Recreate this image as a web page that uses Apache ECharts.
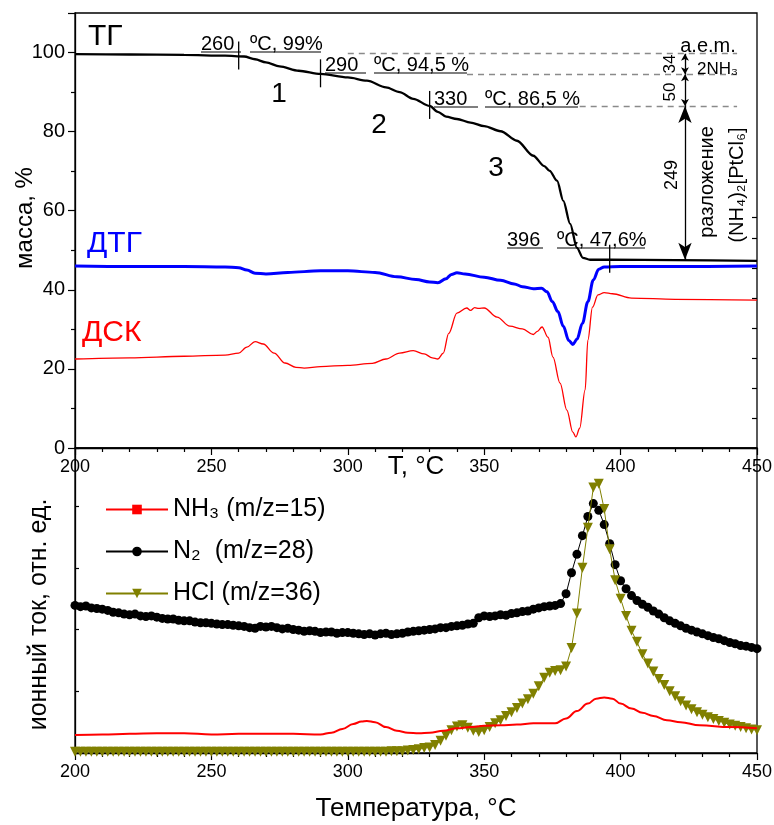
<!DOCTYPE html>
<html><head><meta charset="utf-8">
<script src="https://cdn.jsdelivr.net/npm/echarts@6/dist/echarts.min.js"></script>
<style>html,body{margin:0;padding:0;background:#fff}#c{width:774px;height:825px}</style>
</head><body><div id="c"></div>
<script>
const FONT = '"Liberation Sans", Arial, Helvetica, sans-serif';

// ---- top panel: TG (mass %), DTG, DSC (plotted on mass scale) ----
const tgT = [200,220,240,255,262,266,270,275,282,290,300,307,314,319,324,330,333,336,340,345,350,356,362,368,372,374,376.7,379,381.5,384,386.2,388.8,396,420,450];
const tgV = [99.6,99.5,99.4,99.2,99.0,98.3,97.5,96.5,95.4,94.6,93.7,92.9,91.2,90.0,88.3,86.5,85.0,83.8,83.2,82.3,81.4,80.1,77.7,73.9,71.3,70.1,67.6,62.5,56.7,50.6,48.1,47.6,47.6,47.5,47.3];

const dtgT = [200,220,240,255,260,263,266,270,278,290,300,310,318,325,330,333,336,338,340,343,350,356,361,364,368,371,373,375,377,379,381,382.5,384,386,388,390,392,394,400,420,450];
const dtgV = [46.0,45.9,45.9,45.8,45.6,45.0,44.2,44.0,44.4,44.8,44.8,44.4,43.3,42.6,42.0,41.8,42.8,43.9,44.3,44.0,43.2,42.4,41.5,40.8,40.3,40.4,39.5,37.0,34.5,30.8,27.2,26.2,27.5,31.5,37.0,42.5,45.2,45.8,45.9,45.9,46.0];

const dscT = [200,220,240,255,260,263,266,269,273,277,281,284,290,300,309,314,319,324,328,331,333,335,337,340,343.6,345,346.5,348,350,354.7,359.4,364,368,369.5,371.2,373.4,375.2,377.8,380.3,382.5,383.6,385,387,388,389.7,391.7,394,397,404,420,450];
const dscV = [22.5,22.8,23.2,23.5,24.0,25.5,26.9,26.3,24.0,21.5,20.4,20.2,20.6,20.9,21.4,22.5,24.0,24.6,23.8,22.8,22.5,24.0,29.0,34.1,35.4,34.8,35.5,35.3,35.4,33.1,30.8,30.1,28.7,29.5,30.6,28.0,23.0,16.4,9.6,4.0,2.8,5.0,14.7,27.3,35.6,38.7,39.3,39.0,37.9,37.6,37.4];

// TG step annotations
const stepT = [260, 290, 330, 396];
const stepMass = [99, 94.5, 86.5, 47.6];
// mass-loss levels (dashed guides / arrows)
const levelMass = [99.7, 94.5, 86.5, 47.6];
const levelStartT = [300, 343.7, 385];
const levelEndT = 442.7;
const arrowT = 423.6;

// ---- bottom panel: mass spectrometry ion currents ----
const nh3T = [200,210,220,230,240,250,260,270,280,290,294,298,302,305,307,310,314,318,322,326,330,335,340,345,350,356,362,368,372,376,380,384,388,391,394,397,400,404,408,412,417,422,429,440,450];
const nh3V = [0.29,0.30,0.31,0.32,0.32,0.30,0.31,0.31,0.31,0.30,0.33,0.39,0.47,0.51,0.52,0.50,0.42,0.36,0.33,0.32,0.33,0.36,0.40,0.42,0.44,0.45,0.46,0.48,0.48,0.48,0.56,0.68,0.80,0.88,0.90,0.88,0.80,0.72,0.65,0.60,0.53,0.50,0.45,0.42,0.40];

const msT = [
200,202,204,206,208,210,212,214,216,218,
220,222,224,226,228,230,232,234,236,238,
240,242,244,246,248,250,252,254,256,258,
260,262,264,266,268,270,272,274,276,278,
280,282,284,286,288,290,292,294,296,298,
300,302,304,306,308,310,312,314,316,318,
320,322,324,326,328,330,332,334,336,338,
340,342,344,346,348,350,352,354,356,358,
360,362,364,366,368,370,372,374,376,378,
380,382,384,386,388,390,392,394,396,398,
400,402,404,406,408,410,412,414,416,418,
420,422,424,426,428,430,432,434,436,438,
440,442,444,446,448,450];
const n2V = [
2.39,2.37,2.38,2.35,2.34,2.33,2.31,2.28,2.27,2.25,
2.24,2.25,2.22,2.21,2.22,2.20,2.18,2.17,2.17,2.15,
2.14,2.14,2.12,2.11,2.11,2.10,2.09,2.08,2.08,2.07,
2.06,2.05,2.03,2.02,2.05,2.04,2.05,2.03,2.01,2.02,
2.00,1.99,1.97,1.98,1.97,1.95,1.96,1.96,1.94,1.95,
1.95,1.94,1.93,1.92,1.93,1.91,1.93,1.94,1.92,1.93,
1.94,1.96,1.97,1.98,1.99,2.00,2.01,2.03,2.03,2.05,
2.06,2.07,2.09,2.10,2.19,2.22,2.21,2.22,2.24,2.23,
2.26,2.27,2.29,2.30,2.33,2.35,2.37,2.38,2.39,2.42,
2.58,2.92,3.22,3.52,3.83,4.04,3.93,3.70,3.39,3.05,
2.79,2.66,2.55,2.47,2.41,2.36,2.30,2.25,2.19,2.14,
2.10,2.06,2.02,1.99,1.96,1.93,1.90,1.87,1.85,1.82,
1.79,1.77,1.74,1.73,1.71,1.69];
const hclV = [
0.02,0.02,0.02,0.02,0.02,0.02,0.02,0.02,0.02,0.02,
0.02,0.02,0.02,0.02,0.02,0.02,0.02,0.02,0.02,0.02,
0.02,0.02,0.02,0.02,0.02,0.02,0.02,0.02,0.02,0.02,
0.02,0.02,0.02,0.02,0.02,0.02,0.02,0.02,0.02,0.02,
0.02,0.02,0.02,0.02,0.02,0.02,0.02,0.02,0.02,0.02,
0.02,0.02,0.02,0.02,0.02,0.02,0.02,0.02,0.03,0.03,
0.03,0.04,0.05,0.06,0.08,0.09,0.13,0.20,0.28,0.37,
0.43,0.45,0.41,0.36,0.34,0.37,0.42,0.48,0.53,0.60,
0.66,0.73,0.80,0.87,0.96,1.08,1.22,1.30,1.33,1.34,
1.40,1.70,2.26,3.00,3.65,4.30,4.36,3.95,3.30,2.80,
2.50,2.22,1.98,1.80,1.60,1.45,1.32,1.20,1.10,1.00,
0.92,0.84,0.77,0.71,0.66,0.62,0.58,0.55,0.52,0.49,
0.46,0.44,0.42,0.40,0.38,0.37];

const seriesNames = ['NH₃ (m/z=15)', 'N₂  (m/z=28)', 'HCl (m/z=36)'];

const pairs = (xs, ys) => xs.map((x, i) => [x, ys[i]]);

const chart = echarts.init(document.getElementById('c'), null, {renderer: 'canvas'});

const black = '#000';
const tickStyle = {color: black, width: 1.2};
function xAx(grid, name, nameGap) {
  return {
    gridIndex: grid, type: 'value', min: 200, max: 450, interval: 50,
    axisLine: {lineStyle: {color: black, width: 1.3}},
    axisTick: {length: 7, lineStyle: tickStyle},
    minorTick: {show: true, splitNumber: 5, length: 4, lineStyle: tickStyle},
    splitLine: {show: false},
    axisLabel: {fontSize: 18, color: black, margin: 10, fontFamily: FONT, hideOverlap: false},
    name: name, nameLocation: 'middle', nameGap: nameGap, nameMoveOverlap: false,
    nameTextStyle: {fontSize: 26, color: black, fontFamily: FONT}
  };
}

const dashStyle = {color: '#8a8a8a', type: [6, 5], width: 1.3};
const dashedLines = levelStartT.map((t, i) => [
  {coord: [t, levelMass[i]], symbol: 'none'},
  {coord: [levelEndT, levelMass[i]], symbol: 'none'}
]);
const arrowLines = [0, 1, 2].map(i => {
  const big = i === 2;
  const sz = big ? [10, 17] : [6, 7];
  return [
    {coord: [arrowT, levelMass[i]], symbol: 'arrow', symbolSize: sz},
    {coord: [arrowT, levelMass[i + 1]], symbol: 'arrow', symbolSize: sz}
  ];
});

const option = {
  animation: false,
  textStyle: {fontFamily: FONT},
  grid: [
    {left: 75, right: 17, top: 13, height: 435, show: true, borderColor: black, borderWidth: 1.3, outerBoundsMode: 'none', containLabel: false},
    {left: 75, right: 17, top: 448, height: 305, show: true, borderColor: black, borderWidth: 1.3, outerBoundsMode: 'none', containLabel: false},
    {left: 75, right: 17, top: 217, height: 231, show: false, outerBoundsMode: 'none', containLabel: false}
  ],
  xAxis: [
    xAx(0, 'T, °C', 6),
    xAx(1, 'Температура, °C', 43),
    {gridIndex: 2, type: 'value', min: 200, max: 450, show: false}
  ],
  yAxis: [
    {gridIndex: 0, type: 'value', min: 0, max: 110, interval: 20,
     axisLine: {show: true, lineStyle: {color: black, width: 1.3}},
     axisTick: {show: true, length: 7, lineStyle: tickStyle},
     minorTick: {show: true, splitNumber: 2, length: 4, lineStyle: tickStyle},
     splitLine: {show: false},
     axisLabel: {fontSize: 20, color: black, margin: 10, fontFamily: FONT, showMaxLabel: false},
     name: 'масса, %', nameLocation: 'middle', nameGap: 38, nameMoveOverlap: false,
     nameTextStyle: {fontSize: 24, color: black, fontFamily: FONT, padding: [0, 0, 0, 25]}},
    {gridIndex: 1, type: 'value', min: 0, max: 4.94, interval: 1,
     axisLine: {show: true, lineStyle: {color: black, width: 1.3}},
     axisTick: {show: true, inside: true, length: 4, lineStyle: tickStyle},
     axisLabel: {show: false},
     splitLine: {show: false},
     name: 'ионный ток, отн. ед.', nameLocation: 'middle', nameGap: 23, nameMoveOverlap: false,
     nameTextStyle: {fontSize: 25, color: black, fontFamily: FONT, padding: [0, 28, 0, 0]}},
    {gridIndex: 2, type: 'value', position: 'right', min: 0, max: 7.7, interval: 1,
     axisLine: {show: false},
     axisTick: {show: true, inside: true, length: 5, lineStyle: tickStyle},
     axisLabel: {show: false}, splitLine: {show: false}}
  ],
  legend: {
    data: seriesNames, orient: 'vertical', left: 100, top: 490,
    itemWidth: 62, itemHeight: 12, itemGap: 13, selectedMode: false,
    textStyle: {fontSize: 25, color: black, fontFamily: FONT, lineHeight: 29}
  },
  series: [
    {name: 'ТГ', type: 'line', xAxisIndex: 0, yAxisIndex: 0, data: pairs(tgT, tgV),
     showSymbol: false, smooth: 0.3, smoothMonotone: 'x', z: 5,
     lineStyle: {color: black, width: 2.3},
     markLine: {silent: true, animation: false, label: {show: false}, lineStyle: dashStyle, data: dashedLines}},
    {name: 'ДТГ', type: 'line', xAxisIndex: 0, yAxisIndex: 0, data: pairs(dtgT, dtgV),
     showSymbol: false, smooth: 0.35, smoothMonotone: 'x', z: 4,
     lineStyle: {color: '#0000ff', width: 3}},
    {name: 'ДСК', type: 'line', xAxisIndex: 0, yAxisIndex: 0, data: pairs(dscT, dscV),
     showSymbol: false, smooth: 0.35, smoothMonotone: 'x', z: 3,
     lineStyle: {color: '#ff0000', width: 1.3}},
    {name: 'arrows', type: 'line', xAxisIndex: 0, yAxisIndex: 0, data: [],
     markLine: {silent: true, animation: false, label: {show: false},
       lineStyle: {color: black, type: 'solid', width: 1.3}, itemStyle: {color: black},
       data: arrowLines}},
    {name: seriesNames[1], type: 'line', xAxisIndex: 1, yAxisIndex: 1, data: pairs(msT, n2V),
     symbol: 'circle', symbolSize: 9, showSymbol: true, z: 2,
     itemStyle: {color: black}, lineStyle: {color: black, width: 1}},
    {name: seriesNames[2], type: 'line', xAxisIndex: 1, yAxisIndex: 1, data: pairs(msT, hclV),
     symbol: 'triangle', symbolRotate: 180, symbolSize: 10, showSymbol: true, z: 3,
     itemStyle: {color: '#808000'}, lineStyle: {color: '#808000', width: 1}},
    {name: seriesNames[0], type: 'line', xAxisIndex: 1, yAxisIndex: 1, data: pairs(nh3T, nh3V),
     symbol: 'rect', symbolSize: 8, showSymbol: false, smooth: 0.4, smoothMonotone: 'x', z: 4,
     itemStyle: {color: '#ff0000'}, lineStyle: {color: '#ff0000', width: 2}}
  ]
};
chart.setOption(option);

// ---- annotations (layout) ----
const g = [];
function txt(text, x, y, size, opts) {
  opts = opts || {};
  const el = {
    type: 'text', x: x, y: y, rotation: opts.rot ? Math.PI / 2 : 0, z: 50,
    style: {text: text, x: 0, y: 0, fill: opts.fill || black,
      font: size + 'px ' + FONT,
      align: opts.align || 'left', verticalAlign: opts.va || 'middle'}
  };
  g.push(el);
}
function seg(x1, y1, x2, y2, w) {
  g.push({type: 'line', z: 50, shape: {x1: x1, y1: y1, x2: x2, y2: y2},
    style: {stroke: black, lineWidth: w || 1.3}});
}
txt('ТГ', 88, 37, 30);
txt('ДТГ', 87, 244, 30, {fill: '#0000ff'});
txt('ДСК', 82, 333, 30, {fill: '#ff0000'});
txt('1', 279, 94, 28, {align: 'center'});
txt('2', 379, 125, 28, {align: 'center'});
txt('3', 496, 168, 28, {align: 'center'});

const stepTexts = [
  ['260', 'ºC, 99%', 201, 241, 250, 321, 52],
  ['290', 'ºC, 94,5 %', 325, 366, 374, 467, 73],
  ['330', 'ºC, 86,5 %', 434, 478, 485, 578, 107],
  ['396', 'ºC, 47,6%', 507, 543, 557, 645, 248]
];
stepTexts.forEach(s => {
  txt(s[0], s[2], s[6] + 2, 20, {va: 'bottom'});
  txt(s[1], s[4], s[6] + 2, 20, {va: 'bottom'});
  seg(s[2], s[6], s[3], s[6], 1.2);
  seg(s[4], s[6], s[5], s[6], 1.2);
});
stepT.forEach((t, i) => {
  const p = chart.convertToPixel({gridIndex: 0}, [t, stepMass[i]]);
  seg(p[0], p[1] - 15, p[0], p[1] + 13, 1.3);
});

txt('a.e.m.', 708, 46, 20, {align: 'center'});
txt('2NH₃', 697, 69, 17);
txt('34', 670, 64, 17, {rot: true, align: 'center'});
txt('50', 670, 92, 17, {rot: true, align: 'center'});
txt('249', 672, 175, 18, {rot: true, align: 'center'});
txt('разложение', 707, 182, 20, {rot: true, align: 'center'});
txt('(NH₄)₂[PtCl₆]', 737, 185, 20, {rot: true, align: 'center'});

chart.setOption({graphic: g});
</script>
</body></html>
